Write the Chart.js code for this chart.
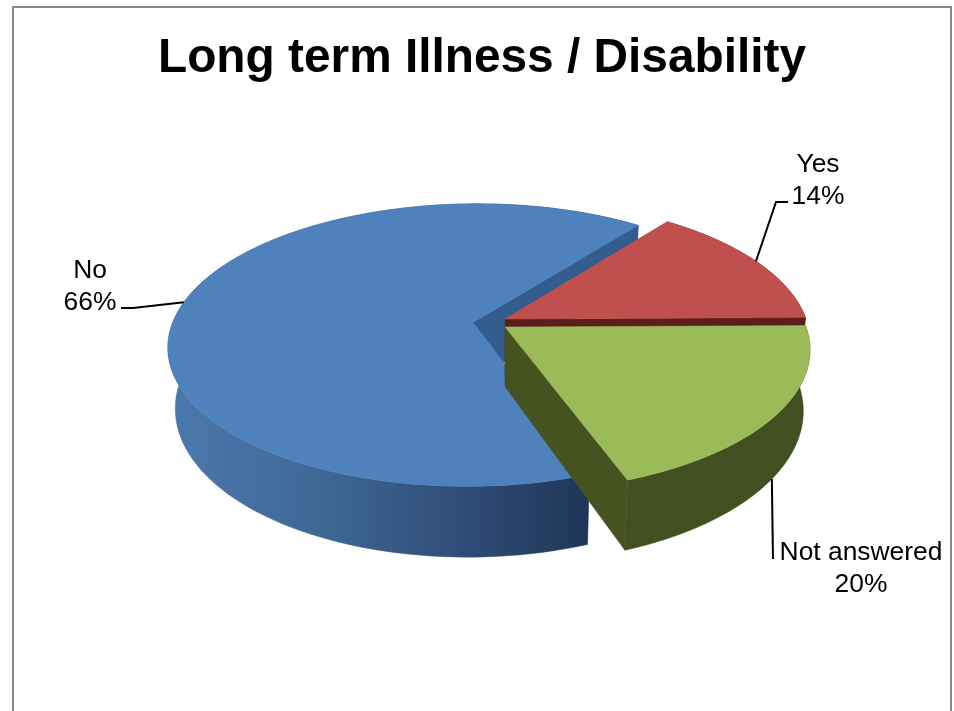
<!DOCTYPE html>
<html>
<head>
<meta charset="utf-8">
<title>Long term Illness / Disability</title>
<script src="https://cdn.jsdelivr.net/npm/chart.js@4"></script>
<style>
html, body { margin: 0; height: 100%; overflow: hidden; background: #fff; }
#frame { position: absolute; left: 12px; top: 6px; width: 936px; height: 760px; border: 2px solid #868686; }
canvas { display: block; }
</style>
</head>
<body>
<div id="frame"><canvas id="pieChart" width="936" height="703"></canvas></div>
<script>
const categories = ['Yes', 'Not answered', 'No'];
const values = [14.45, 19.55, 66];
const explode = [0, 0, 32.5];
const topColors = ['#c0504d', '#9bbb59', '#4f81bd'];
const cutColors = ['#5a1e1b', '#46521f', '#335d8f'];
const rimColors = ['#5a1e1b', '#414f21', null];

// label text block: centre x, first line y, leader elbow points (canvas px)
const labelX = [804, 847, 76];
const labelY = [157, 545, 263];
const leaderBends = [
    [[762, 194], [774, 194]],
    [[759, 551]],
    [[119, 300], [107, 300]]
];
const leaderDepth = [0, 1, 0];

// view of the tilted pie
const centerX = 491;
const centerY = 316.5;
const planeRadius = 301;
const tilt = 138.3;
const persp = 0.162;
const depthPx = 59.5;
const sliceNudge = [-5.5, 2.5, 0];

function project(px, py, d) {
    const t = py / planeRadius;
    const w = 1 - persp * t;
    return {
        x: centerX + (px / w) * (1 - 0.022 * d),
        y: centerY + (tilt * t + depthPx * d) / w
    };
}

function slicePoint(arc, i, angle, r, d) {
    const mid = (arc.startAngle + arc.endAngle) / 2;
    const off = explode[i];
    const p = project(off * Math.cos(mid) + r * Math.cos(angle),
                      off * Math.sin(mid) + r * Math.sin(angle), d);
    p.y += sliceNudge[i];
    return p;
}

function fillPoly(ctx, pts, color) {
    ctx.beginPath();
    pts.forEach((p, n) => n ? ctx.lineTo(p.x, p.y) : ctx.moveTo(p.x, p.y));
    ctx.closePath();
    ctx.fillStyle = color;
    ctx.fill();
    ctx.strokeStyle = color;
    ctx.lineWidth = 0.5;
    ctx.stroke();
}

function polyArea(pts) {
    let sum = 0;
    pts.forEach((p, n) => {
        const q = pts[(n + 1) % pts.length];
        sum += p.x * q.y - q.x * p.y;
    });
    return sum;
}

function rimPoints(arc, i, d) {
    const pts = [];
    const steps = 120;
    for (let s = 0; s <= steps; s++) {
        const a = arc.startAngle + (arc.endAngle - arc.startAngle) * s / steps;
        pts.push(slicePoint(arc, i, a, planeRadius, d));
    }
    return pts;
}

const pie3d = {
    id: 'pie3d',
    beforeDatasetsDraw(chart) {
        const ctx = chart.ctx;
        const arcs = chart.getDatasetMeta(0).data;
        // back to front: the big slice first, then Yes, then Not answered
        [2, 0, 1].forEach(i => {
            const arc = arcs[i];
            const upper = rimPoints(arc, i, 0);
            const lower = rimPoints(arc, i, 1);
            let rim = rimColors[i];
            if (!rim) {
                rim = ctx.createLinearGradient(160, 0, 576, 0);
                rim.addColorStop(0, '#4b78ab');
                rim.addColorStop(0.35, '#3f6896');
                rim.addColorStop(0.7, '#2f4c76');
                rim.addColorStop(1, '#1e3557');
            }
            fillPoly(ctx, upper.concat(lower.slice().reverse()), rim);
            // cut faces, only the ones turned towards the viewer
            [[arc.startAngle, -1], [arc.endAngle, 1]].forEach(([a, sign]) => {
                const face = [
                    slicePoint(arc, i, a, 0, 0),
                    slicePoint(arc, i, a, planeRadius, 0),
                    slicePoint(arc, i, a, planeRadius, 1),
                    slicePoint(arc, i, a, 0, 1)
                ];
                if (polyArea(face) * sign > 0) fillPoly(ctx, face, cutColors[i]);
            });
            fillPoly(ctx, [slicePoint(arc, i, 0, 0, 0)].concat(upper), topColors[i]);
        });
        return false;
    },
    afterDraw(chart) {
        const ctx = chart.ctx;
        const arcs = chart.getDatasetMeta(0).data;
        const total = values.reduce((a, b) => a + b, 0);
        ctx.save();
        ctx.strokeStyle = '#000';
        ctx.lineWidth = 2;
        ctx.fillStyle = '#000';
        ctx.font = '26.4px "Liberation Sans", Arial, sans-serif';
        ctx.textAlign = 'center';
        ctx.textBaseline = 'middle';
        categories.forEach((name, i) => {
            const arc = arcs[i];
            const mid = (arc.startAngle + arc.endAngle) / 2;
            const start = slicePoint(arc, i, mid, planeRadius, leaderDepth[i]);
            ctx.beginPath();
            ctx.moveTo(start.x, start.y);
            leaderBends[i].forEach(b => ctx.lineTo(b[0], b[1]));
            ctx.stroke();
            ctx.fillText(name, labelX[i], labelY[i]);
            ctx.fillText(Math.round(values[i] / total * 100) + '%', labelX[i], labelY[i] + 32);
        });
        ctx.restore();
    }
};

new Chart(document.getElementById('pieChart'), {
    type: 'pie',
    data: {
        labels: categories,
        datasets: [{
            data: values,
            backgroundColor: topColors,
            offset: explode,
            borderWidth: 0
        }]
    },
    options: {
        responsive: false,
        animation: false,
        rotation: 37.4,
        plugins: {
            legend: { display: false },
            tooltip: { enabled: false },
            title: {
                display: true,
                text: 'Long term Illness / Disability',
                color: '#000',
                font: { family: '"Liberation Sans", Arial, sans-serif', size: 47.8, weight: 'bold' },
                padding: { top: 22, bottom: 10 }
            }
        }
    },
    plugins: [pie3d]
});
</script>
</body>
</html>
